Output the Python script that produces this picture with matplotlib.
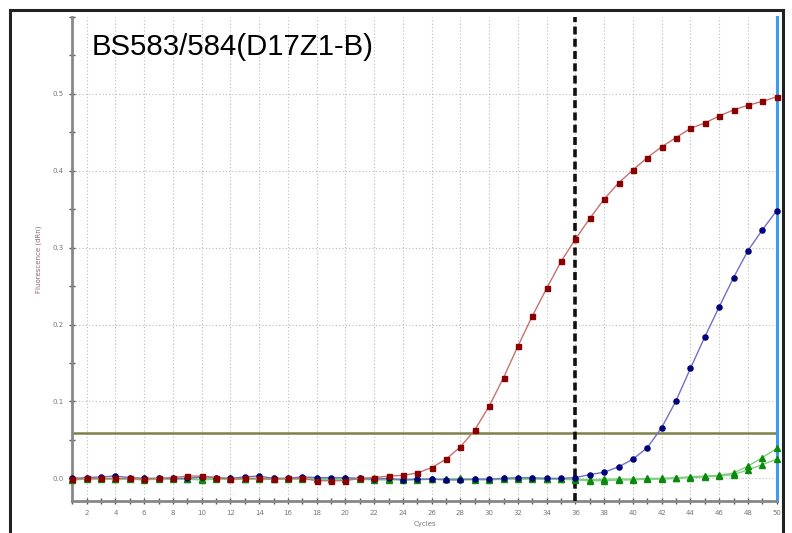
import matplotlib.pyplot as plt
from matplotlib.lines import Line2D
from matplotlib.ticker import MultipleLocator

cycles = list(range(1, 51))

# FAM red (squares)
red = [-0.001, 0.000, 0.000, 0.000, 0.000, -0.001, 0.000, 0.001, 0.003, 0.003,
       0.001, -0.001, 0.000, 0.000, -0.001, 0.000, 0.000, -0.003, -0.003, -0.003,
       0.000, 0.001, 0.003, 0.004, 0.007, 0.014, 0.025, 0.041, 0.063, 0.094,
       0.131, 0.172, 0.211, 0.247, 0.282, 0.311, 0.338, 0.363, 0.384, 0.401,
       0.417, 0.431, 0.443, 0.455, 0.462, 0.471, 0.479, 0.485, 0.490, 0.496]

# blue (circles)
blue = [0.000, 0.001, 0.002, 0.003, 0.001, 0.000, 0.000, 0.000, 0.000, 0.002,
        0.001, 0.000, 0.002, 0.003, 0.000, 0.000, 0.002, 0.001, 0.001, 0.001,
        0.000, -0.001, 0.000, -0.002, -0.001, -0.001, -0.002, -0.002, -0.001, -0.001,
        0.000, 0.001, 0.001, 0.000, 0.000, 0.001, 0.005, 0.008, 0.015, 0.025,
        0.040, 0.066, 0.101, 0.143, 0.184, 0.223, 0.261, 0.296, 0.323, 0.348]

# green (triangles), two wells
green_a = [-0.001, 0.000, 0.000, -0.001, 0.000, 0.000, 0.000, 0.000, -0.001, -0.001,
           0.000, 0.000, -0.001, 0.000, 0.000, 0.000, 0.000, 0.000, -0.001, 0.000,
           0.000, 0.000, -0.001, -0.001, -0.001, -0.001, -0.001, 0.000, -0.001, -0.001,
           0.000, 0.000, 0.000, -0.001, -0.001, -0.001, -0.002, -0.001, -0.001, -0.001,
           0.000, 0.000, 0.001, 0.002, 0.003, 0.004, 0.007, 0.016, 0.027, 0.039]
green_b = [-0.002, -0.001, -0.001, -0.001, -0.001, -0.002, -0.001, -0.001, -0.001, -0.002,
           -0.001, -0.001, -0.001, -0.001, -0.001, -0.001, -0.001, -0.001, -0.001, -0.001,
           -0.001, -0.002, -0.002, -0.002, -0.002, -0.001, -0.001, -0.001, -0.002, -0.002,
           -0.001, -0.001, -0.001, -0.001, -0.001, -0.002, -0.003, -0.003, -0.002, -0.002,
           -0.001, -0.001, 0.000, 0.001, 0.002, 0.003, 0.005, 0.011, 0.018, 0.025]

threshold = 0.059
cursor_cycle = 36
end_cycle = 50
title = "BS583/584(D17Z1-B)"

fig = plt.figure(figsize=(7.92, 5.33), dpi=100)
ax = fig.add_axes([72.3 / 792, 1 - 500.7 / 533, (776.7 - 72.3) / 792, (500.7 - 16.8) / 533])

ax.plot(cycles, green_b, color='#7ccf7c', lw=1, marker='^', ms=4,
        mfc='#0a8a0a', mec='#0a8a0a', zorder=3, clip_on=False)
ax.plot(cycles, green_a, color='#7ccf7c', lw=1, marker='^', ms=4,
        mfc='#0a8a0a', mec='#0a8a0a', zorder=3, clip_on=False)
ax.plot(cycles, blue, color='#7070c8', lw=1, marker='o', ms=3.7,
        mfc='#00007a', mec='#00007a', zorder=4, clip_on=False)
ax.plot(cycles, red, color='#c87070', lw=1, marker='s', ms=3.6,
        mfc='#8a0000', mec='#8a0000', zorder=5, clip_on=False)

ax.axhline(threshold, color='#80804a', lw=1.8, zorder=2)
ax.axvline(cursor_cycle, color='#111111', lw=2.6, linestyle=(0, (2.2, 1.2)), zorder=2.6)
ax.axvline(end_cycle, color='#3a9cf0', lw=2.2, zorder=2.5, clip_on=False)

ax.set_xlim(1, 50)
ax.set_ylim(-0.029, 0.6)

ax.xaxis.set_major_locator(MultipleLocator(2))
ax.xaxis.set_minor_locator(MultipleLocator(1))
ax.yaxis.set_major_locator(MultipleLocator(0.1))
ax.yaxis.set_minor_locator(MultipleLocator(0.05))
ax.set_yticks([0.0, 0.1, 0.2, 0.3, 0.4, 0.5])
ax.set_yticklabels(['0.0', '0.1', '0.2', '0.3', '0.4', '0.5'])
ax.tick_params(axis='both', which='both', direction='inout', color='#555555',
               labelsize=5, labelcolor='#777777', width=1)
ax.tick_params(axis='both', which='major', length=5)
ax.tick_params(axis='both', which='minor', length=4)
ax.tick_params(axis='x', pad=4)

ax.grid(True, which='major', color='#bbbbbb', linestyle=(0, (1, 2)), lw=0.8)

for s in ['top', 'right']:
    ax.spines[s].set_visible(False)
for s in ['left', 'bottom']:
    ax.spines[s].set_color('#888888')
    ax.spines[s].set_linewidth(2)

ax.set_xlabel('Cycles', fontsize=5, color='#777777', labelpad=4)
ax.set_ylabel('Fluorescence (dRn)', fontsize=5, color='#886677', labelpad=8)

fig.text(92 / 792, 1 - 55 / 533, title, fontsize=21.2, family='Liberation Sans',
         va='baseline', ha='left')

# outer frame
fw = dict(color='#222222', lw=2.2, transform=fig.transFigure)
fig.add_artist(Line2D([10 / 792, 783 / 792], [1 - 10 / 533, 1 - 10 / 533], **fw))
fig.add_artist(Line2D([10 / 792, 10 / 792], [0, 1 - 10 / 533], **fw))
fig.add_artist(Line2D([783 / 792, 783 / 792], [0, 1 - 10 / 533], **fw))

plt.savefig('out.png', dpi=100)
